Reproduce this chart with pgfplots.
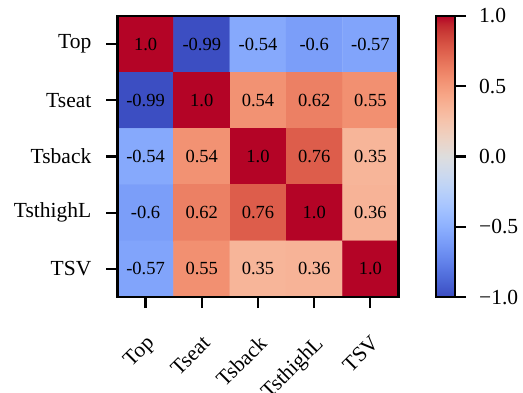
\documentclass[border=0pt]{standalone}
\usepackage{fontspec}
\setmainfont{Liberation Serif}
\usepackage{pgfplots}
\usepackage{pgfplotstable}
\pgfplotsset{compat=1.18}
\pgfplotsset{colormap={coolwarm}{
rgb255=(59,76,192) rgb255=(68,90,204) rgb255=(77,104,215) rgb255=(87,117,225)
rgb255=(98,130,234) rgb255=(108,142,241) rgb255=(119,154,247) rgb255=(130,165,251)
rgb255=(141,176,254) rgb255=(152,185,255) rgb255=(163,194,255) rgb255=(174,201,253)
rgb255=(184,208,249) rgb255=(194,213,244) rgb255=(204,217,238) rgb255=(213,219,230)
rgb255=(221,221,221) rgb255=(229,216,209) rgb255=(236,211,197) rgb255=(241,204,185)
rgb255=(245,196,173) rgb255=(247,187,160) rgb255=(247,177,148) rgb255=(247,166,135)
rgb255=(244,154,123) rgb255=(241,141,111) rgb255=(236,127,99) rgb255=(229,112,88)
rgb255=(222,96,77) rgb255=(213,80,66) rgb255=(203,62,56) rgb255=(192,40,47)
rgb255=(180,4,38)}}
\pgfplotstableread{
x y c
0 0 1.0
1 0 -0.99
2 0 -0.54
3 0 -0.6
4 0 -0.57
0 1 -0.99
1 1 1.0
2 1 0.54
3 1 0.62
4 1 0.55
0 2 -0.54
1 2 0.54
2 2 1.0
3 2 0.76
4 2 0.35
0 3 -0.6
1 3 0.62
2 3 0.76
3 3 1.0
4 3 0.36
0 4 -0.57
1 4 0.55
2 4 0.35
3 4 0.36
4 4 1.0
}\corr
\begin{document}
\begin{tikzpicture}
\begin{axis}[
  name=main,
  width=281pt, height=281pt, scale only axis,
  xmin=-0.5, xmax=4.5, ymin=-0.5, ymax=4.5,
  y dir=reverse,
  colormap name=coolwarm,
  point meta min=-1, point meta max=1,
  xtick={0,1,2,3,4}, ytick={0,1,2,3,4},
  xticklabels={Top,Tseat,Tsback,TsthighL,TSV},
  yticklabels={Top,Tseat,Tsback,TsthighL,TSV},
  xtick pos=bottom, ytick pos=left,
  tick align=outside,
  major tick length=11pt,
  major tick style={line width=2.2pt, black},
  axis line style={line width=2.2pt},
  tick label style={font=\fontsize{21.5}{21.5}\selectfont},
  xticklabel style={rotate=45, anchor=north east, inner sep=0pt, xshift=-19pt, yshift=-18pt},
  yticklabel style={inner sep=0pt, xshift=-15pt},
  axis on top,
  colorbar,
  colorbar/width=19pt,
  colorbar style={
    at={(parent axis.north east)}, anchor=north west, xshift=29pt,
    height=281pt, scale only axis,
    ytick={-1,-0.5,0,0.5,1},
    yticklabels={−1.0,−0.5,0.0,0.5,1.0},
    tick align=outside, ytick pos=right,
    major tick length=11pt,
    major tick style={line width=2.2pt, black},
    axis line style={line width=2.2pt},
    yticklabel style={font=\fontsize{21.5}{21.5}\selectfont, inner sep=0pt, xshift=13pt},
  },
]
\addplot[matrix plot*, mesh/cols=5, point meta=explicit] table[x=x, y=y, meta=c] {\corr};
\addplot[draw=none, nodes near coords, point meta=explicit symbolic,
  nodes near coords style={anchor=center, black, font=\fontsize{18.5}{18.5}\selectfont}]
  table[x=x, y=y, meta=c] {\corr};
\end{axis}
\pgfresetboundingbox
\path[use as bounding box] ([shift={(-117.5pt,-95pt)}]main.south west) rectangle ([shift={(405.5pt,297pt)}]main.south west);
\end{tikzpicture}
\end{document}
